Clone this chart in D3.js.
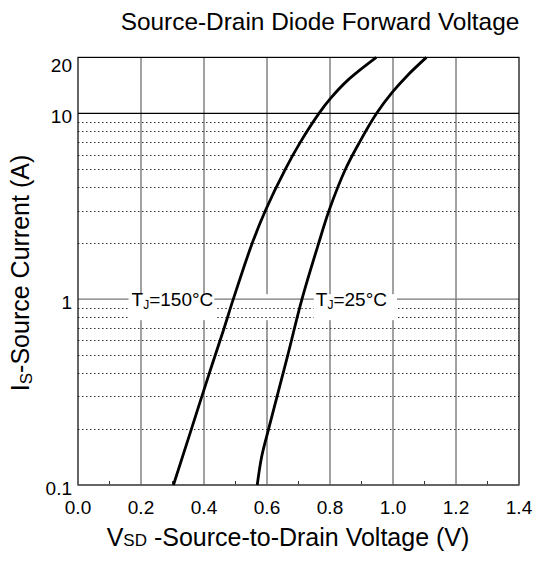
<!DOCTYPE html>
<html>
<head>
<meta charset="utf-8">
<script src="https://cdnjs.cloudflare.com/ajax/libs/d3/7.8.5/d3.min.js"></script>
<style>
  body { margin: 0; background: #fff; }
  text { font-family: Arial, "Liberation Sans", sans-serif; fill: #000; }
</style>
</head>
<body>
<div id="chart"></div>
<script>
// axis values
var xTicks = [0.0, 0.2, 0.4, 0.6, 0.8, 1.0, 1.2, 1.4];
var xMinor = [0.1, 0.3, 0.5, 0.7, 0.9, 1.1, 1.3];
var yTicks = [0.1, 1, 10, 20];
var yMajorGrid = [1, 10];
var yMinorGrid = [0.2, 0.3, 0.4, 0.5, 0.6, 0.7, 0.8, 0.9, 2, 3, 4, 5, 6, 7, 8, 9];

// Tj = 150 C curve (V, A)
var v150 = [0.303, 0.360, 0.417, 0.464, 0.493, 0.553, 0.595, 0.658, 0.706, 0.765, 0.801, 0.855, 0.947];
var i150 = [0.1, 0.2, 0.4, 0.7, 1, 2, 3, 5, 7, 10, 12, 15, 20];
// Tj = 25 C curve
var v25 = [0.569, 0.583, 0.605, 0.632, 0.666, 0.711, 0.764, 0.797, 0.849, 0.894, 0.948, 0.998, 1.046, 1.106];
var i25 = [0.1, 0.142, 0.2, 0.3, 0.5, 1, 2, 3, 5, 7, 10, 13, 16, 20];

(function () {
var W = 536, H = 564;
var pLeft = 78, pRight = 519, pTop = 57.4, pBottom = 485;

var svg = d3.select("#chart").append("svg").attr("width", W).attr("height", H);

var x = d3.scaleLinear().domain([0, 1.4]).range([pLeft, pRight]);
var y = d3.scaleLog().domain([0.1, 20]).range([pBottom, pTop]);

// title
svg.append("text")
  .attr("x", 320).attr("y", 30)
  .attr("text-anchor", "middle")
  .style("font-size", "24.4px")
  .text("Source-Drain Diode Forward Voltage");

// vertical grid
svg.selectAll(".vg").data(xTicks.slice(1, -1)).enter().append("line")
  .attr("x1", d => x(d)).attr("x2", d => x(d))
  .attr("y1", pTop).attr("y2", pBottom)
  .attr("stroke", "#444").attr("stroke-width", 1);

// dotted horizontal grid
svg.selectAll(".hd").data(yMinorGrid).enter().append("line")
  .attr("x1", pLeft).attr("x2", pRight)
  .attr("y1", d => Math.round(y(d)) + 0.5).attr("y2", d => Math.round(y(d)) + 0.5)
  .attr("stroke", "#333").attr("stroke-width", 1).attr("stroke-dasharray", "1.5,2.5");

// solid horizontal grid
svg.selectAll(".hs").data(yMajorGrid).enter().append("line")
  .attr("x1", pLeft).attr("x2", pRight)
  .attr("y1", d => y(d)).attr("y2", d => y(d))
  .attr("stroke", d => d === 1 ? "#777" : "#000").attr("stroke-width", 1.2);

// x axis minor ticks
svg.selectAll(".mt").data(xMinor).enter().append("line")
  .attr("x1", d => x(d)).attr("x2", d => x(d))
  .attr("y1", pBottom).attr("y2", pBottom - 4)
  .attr("stroke", "#333");

// curve labels, with a white patch over the 1 A line
function label(g, px, base, temp) {
  var t = g.append("text").attr("x", px).attr("y", base).style("font-size", "19px");
  t.append("tspan").text("T");
  t.append("tspan").attr("dy", 3).style("font-size", "12px").text("J");
  t.append("tspan").attr("dy", -3).text("=" + temp + "°C");
  return t;
}
var patch = svg.append("rect").attr("fill", "#fff");
var redraw = svg.append("g");
var labels = svg.append("g");
var l150 = label(labels, x(0.170), y(1) + 7, "150");
var l25 = label(labels, x(0.755), y(1) + 7, "25");
var b1 = l150.node().getBBox(), b2 = l25.node().getBBox();
patch.attr("x", b1.x - 3).attr("y", y(1) - 5)
  .attr("width", b2.x + b2.width + 10 - (b1.x - 3)).attr("height", 26);
// redraw horizontal lines between the two labels
redraw.selectAll("line").data([1, 0.9, 0.8]).enter().append("line")
  .attr("x1", d => d === 1 ? b1.x + b1.width + 1 : b1.x + b1.width + 4)
  .attr("x2", b2.x - 2)
  .attr("y1", d => d === 1 ? y(d) : Math.round(y(d)) + 0.5)
  .attr("y2", d => d === 1 ? y(d) : Math.round(y(d)) + 0.5)
  .attr("stroke", d => d === 1 ? "#777" : "#333")
  .attr("stroke-width", d => d === 1 ? 1.2 : 1)
  .attr("stroke-dasharray", d => d === 1 ? null : "1.5,2.5");

// plot border
svg.append("rect")
  .attr("x", pLeft).attr("y", pTop)
  .attr("width", pRight - pLeft).attr("height", pBottom - pTop)
  .attr("fill", "none").attr("stroke", "#000").attr("stroke-width", 1.2);
svg.append("line")
  .attr("x1", pLeft).attr("x2", pRight).attr("y1", pBottom).attr("y2", pBottom)
  .attr("stroke", "#666").attr("stroke-width", 1.6);

// curves
var line = d3.line().x(d => x(d[0])).y(d => y(d[1])).curve(d3.curveCatmullRom);
svg.append("path").datum(d3.zip(v150, i150)).attr("d", line)
  .attr("fill", "none").attr("stroke", "#000").attr("stroke-width", 2.8);
svg.append("path").datum(d3.zip(v25, i25)).attr("d", line)
  .attr("fill", "none").attr("stroke", "#000").attr("stroke-width", 2.8);

// x tick labels
svg.selectAll(".xl").data(xTicks).enter().append("text")
  .attr("x", d => x(d)).attr("y", pBottom + 29)
  .attr("text-anchor", "middle").style("font-size", "19px")
  .text(d => d.toFixed(1));

// y tick labels
svg.selectAll(".yl").data(yTicks).enter().append("text")
  .attr("x", pLeft - 6).attr("y", d => y(d) + (d === 20 ? 15 : 10))
  .attr("text-anchor", "end").style("font-size", "19px")
  .text(d => d);

// x axis title
var xt = svg.append("text").attr("x", 288).attr("y", 546)
  .attr("text-anchor", "middle").style("font-size", "25px");
xt.append("tspan").text("V");
xt.append("tspan").style("font-size", "17px").text("SD");
xt.append("tspan").text(" -Source-to-Drain Voltage (V)");

// y axis title
var yt = svg.append("text")
  .attr("transform", "translate(29,273) rotate(-90)")
  .attr("text-anchor", "middle").style("font-size", "25px");
yt.append("tspan").text("I");
yt.append("tspan").attr("dy", 3).style("font-size", "17px").text("S");
yt.append("tspan").attr("dy", -3).text("-Source Current (A)");
})();
</script>
</body>
</html>
